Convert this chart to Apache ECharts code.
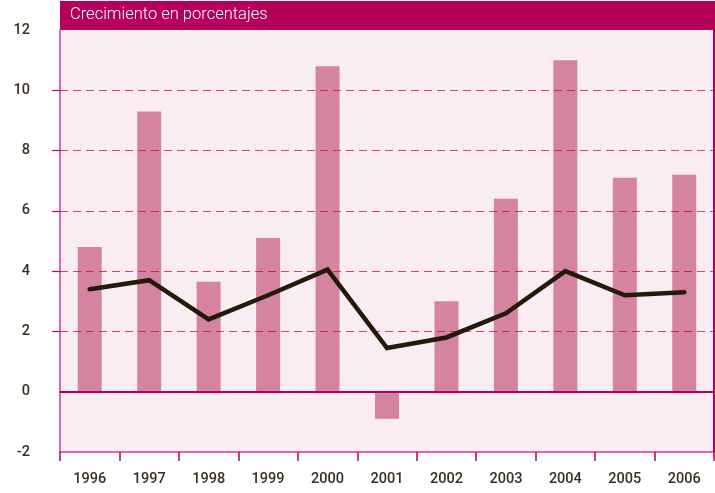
<!DOCTYPE html>
<html>
<head>
<meta charset="utf-8">
<script src="https://cdn.jsdelivr.net/npm/echarts@6/dist/echarts.min.js"></script>
<style>
 html,body{margin:0;padding:0;background:#fff;}
 #main{width:715px;height:493px;}
</style>
</head>
<body>
<div id="main"></div>
<script>
var years = ['1996','1997','1998','1999','2000','2001','2002','2003','2004','2005','2006'];
var barValues = [4.8, 9.3, 3.65, 5.1, 10.8, -0.9, 3.0, 6.4, 11.0, 7.1, 7.2];
var lineValues = [3.4, 3.7, 2.4, 3.2, 4.05, 1.45, 1.8, 2.6, 4.0, 3.2, 3.3];
var gridValues = [2, 4, 6, 8, 10];
var titleText = 'Crecimiento en porcentajes';

var magenta = '#b5005a';
var chart = echarts.init(document.getElementById('main'));

var option = {
  animation: false,
  backgroundColor: '#fff',
  grid: {left: 60, right: 1, top: 30, bottom: 41, show: true,
         backgroundColor: '#f9edf2', borderWidth: 0},
  graphic: [
    {type: 'rect', left: 60, top: 1, z: 10,
     shape: {width: 655, height: 29}, style: {fill: magenta}},
    {type: 'text', left: 70, top: 6, z: 11,
     style: {text: titleText, fill: '#fff', fontSize: 16.5,
             fontFamily: 'Roboto', fontWeight: 300}},
    {type: 'rect', left: 713, top: 30, z: 10,
     shape: {width: 2, height: 422}, style: {fill: magenta}}
  ],
  xAxis: {
    type: 'category',
    data: years,
    axisLine: {onZero: false, lineStyle: {color: '#d03c8c', width: 1.5}},
    axisTick: {show: true, length: 9, lineStyle: {color: magenta, width: 1.5}},
    axisLabel: {margin: 20, fontSize: 14.5, color: '#3a3020',
                fontFamily: 'Roboto', fontWeight: 500}
  },
  yAxis: {
    type: 'value',
    min: -2, max: 12, interval: 2,
    axisLine: {show: true, lineStyle: {color: '#d03c8c', width: 1.5}},
    axisTick: {show: true, length: 8, inside: false,
               customValues: gridValues,
               lineStyle: {color: '#c8006e', width: 1.2}},
    splitLine: {show: false},
    axisLabel: {margin: 30, fontSize: 14.5, color: '#3a3020',
                fontFamily: 'Roboto', fontWeight: 500}
  },
  series: [
    {
      type: 'bar',
      data: barValues,
      barWidth: 24,
      itemStyle: {color: '#d4849f'},
      markLine: {
        silent: true,
        symbol: 'none',
        label: {show: false},
        data: gridValues.map(function (v) {
          return {yAxis: v, lineStyle: {type: [8, 5], color: '#c8006e',
                                         width: 1.2, opacity: 0.75}};
        }).concat([{yAxis: 0, lineStyle: {type: 'solid', color: magenta,
                                          width: 2, opacity: 1}}])
      }
    },
    {
      type: 'line',
      data: lineValues,
      symbol: 'none',
      z: 5,
      lineStyle: {color: '#241a0a', width: 4.5, cap: 'round', join: 'miter'}
    }
  ]
};
chart.setOption(option);
</script>
</body>
</html>
